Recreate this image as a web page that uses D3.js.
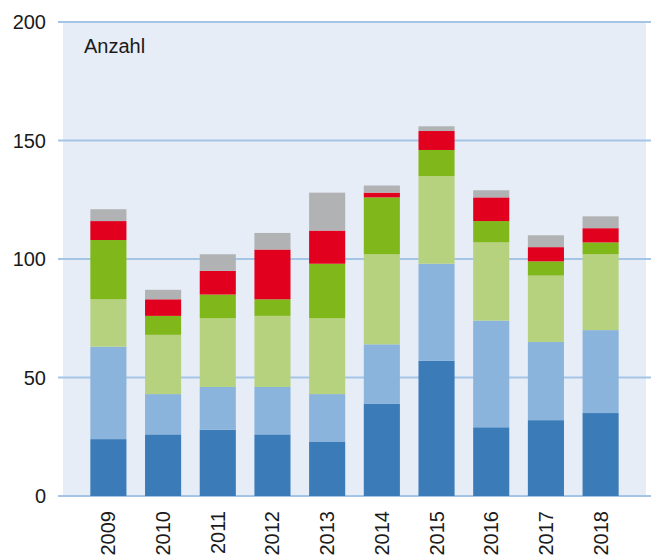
<!DOCTYPE html>
<html>
<head>
<meta charset="utf-8">
<script src="https://cdn.jsdelivr.net/npm/d3@7"></script>
<style>
  body { margin: 0; background: #fff; }
  svg text { font-family: "Liberation Sans", Arial, sans-serif; fill: #1a1a1a; }
</style>
</head>
<body>
<script>
var years = ["2009", "2010", "2011", "2012", "2013", "2014", "2015", "2016", "2017", "2018"];
var seriesKeys = ["s1", "s2", "s3", "s4", "s5", "s6"];
var s1 = [24, 26, 28, 26, 23, 39, 57, 29, 32, 35];
var s2 = [39, 17, 18, 20, 20, 25, 41, 45, 33, 35];
var s3 = [20, 25, 29, 30, 32, 38, 37, 33, 28, 32];
var s4 = [25, 8, 10, 7, 23, 24, 11, 9, 6, 5];
var s5 = [8, 7, 10, 21, 14, 2, 8, 10, 6, 6];
var s6 = [5, 4, 7, 7, 16, 3, 2, 3, 5, 5];
var yTicks = [0, 50, 100, 150, 200];
var colors = ["#3a7bb8", "#8ab4dc", "#b6d27e", "#80b71b", "#e2001f", "#b1b2b3"];

var rows = years.map(function(y, i) {
    return {year: y, s1: s1[i], s2: s2[i], s3: s3[i], s4: s4[i], s5: s5[i], s6: s6[i]};
});

var W = 651, H = 556;
var plot = {left: 63, right: 646, top: 22, bottom: 496};

var svg = d3.select("body").append("svg")
    .attr("width", W)
    .attr("height", H);

var x = d3.scaleBand()
    .domain(years)
    .range([plot.left, plot.right])
    .paddingInner(0.34)
    .paddingOuter(0.5);

var y = d3.scaleLinear()
    .domain([0, 200])
    .range([plot.bottom, plot.top]);

// background
svg.append("rect")
    .attr("x", plot.left)
    .attr("y", plot.top)
    .attr("width", plot.right - plot.left)
    .attr("height", plot.bottom - plot.top)
    .attr("fill", "#e6edf7");

// grid lines + labels
svg.append("g").selectAll("line")
    .data(yTicks)
    .enter().append("line")
    .attr("x1", 58)
    .attr("x2", W)
    .attr("y1", function(d) { return y(d); })
    .attr("y2", function(d) { return y(d); })
    .attr("stroke", "#a5c5e6")
    .attr("stroke-width", 2);

svg.append("g").selectAll("text")
    .data(yTicks)
    .enter().append("text")
    .attr("x", 46)
    .attr("y", function(d) { return y(d); })
    .attr("dy", "0.35em")
    .attr("text-anchor", "end")
    .attr("font-size", 20)
    .text(function(d) { return d; });

var stacked = d3.stack().keys(seriesKeys)(rows);

svg.append("g").selectAll("g")
    .data(stacked)
    .enter().append("g")
    .attr("fill", function(d, i) { return colors[i]; })
    .selectAll("rect")
    .data(function(d) { return d; })
    .enter().append("rect")
    .attr("x", function(d) { return x(d.data.year); })
    .attr("width", x.bandwidth())
    .attr("y", function(d) { return y(d[1]); })
    .attr("height", function(d) { return y(d[0]) - y(d[1]); });

// x labels rotated
svg.append("g").selectAll("text")
    .data(years)
    .enter().append("text")
    .attr("transform", function(d) {
        return "translate(" + (x(d) + x.bandwidth() / 2 + 7) + ",511) rotate(-90)";
    })
    .attr("text-anchor", "end")
    .attr("font-size", 20)
    .text(function(d) { return d; });

svg.append("text")
    .attr("x", 84)
    .attr("y", 53)
    .attr("font-size", 20)
    .text("Anzahl");
</script>
</body>
</html>
